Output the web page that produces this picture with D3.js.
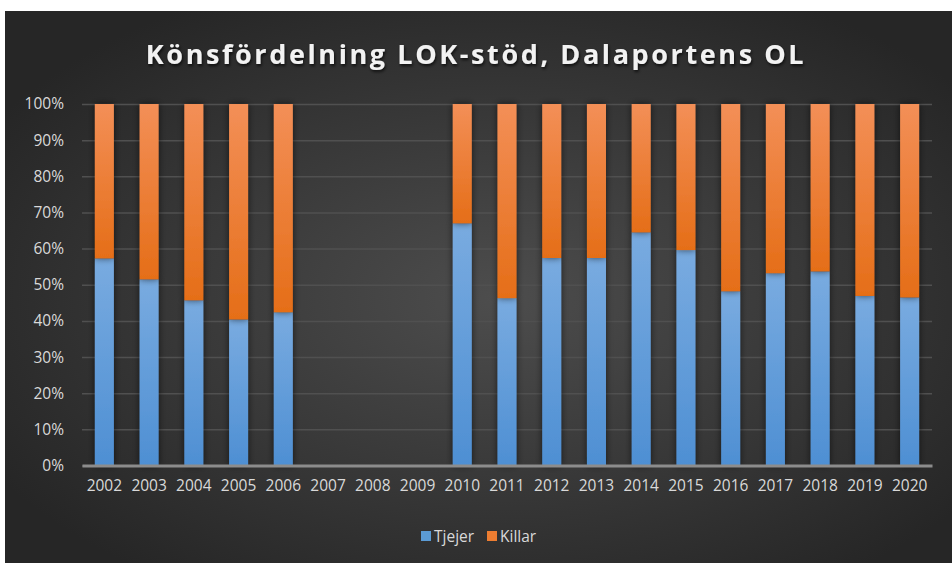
<!DOCTYPE html>
<html>
<head>
<meta charset="utf-8">
<script src="https://cdn.jsdelivr.net/npm/d3@7"></script>
<style>
  body { margin: 0; background: #fff; }
  text { font-family: "Open Sans", "Noto Sans", sans-serif; }
</style>
</head>
<body>
<div class="chart"></div>
<script>
// data (2007-2009 have no values)
let years = ["2002", "2003", "2004", "2005", "2006", "2007", "2008", "2009", "2010", "2011",
  "2012", "2013", "2014", "2015", "2016", "2017", "2018", "2019", "2020"];
let tjejer = [57.3, 51.5, 45.7, 40.4, 42.4, null, null, null, 67.0, 46.3,
  57.4, 57.4, 64.5, 59.6, 48.2, 53.2, 53.7, 46.9, 46.5];
let killar = tjejer.map((d) => (d == null ? null : 100 - d));
let yTicks = [0, 10, 20, 30, 40, 50, 60, 70, 80, 90, 100];
let seriesNames = ["Tjejer", "Killar"];

let W = 952, H = 563;
let margin = { top: 104, right: 20, bottom: 98, left: 82 };
let width = 932 - margin.left;
let height = 465.5 - margin.top;

let root = d3.select(".chart").append("svg").attr("width", W).attr("height", H);
let defs = root.append("defs");

let bg = defs.append("radialGradient").attr("id", "bg")
  .attr("cx", "52%").attr("cy", "52%").attr("r", "62%");
bg.append("stop").attr("offset", "0%").attr("stop-color", "#4d4d4d");
bg.append("stop").attr("offset", "100%").attr("stop-color", "#262626");

function grad(id, top, bottom) {
  let g = defs.append("linearGradient").attr("id", id)
    .attr("x1", 0).attr("y1", 0).attr("x2", 0).attr("y2", 1);
  g.append("stop").attr("offset", "0%").attr("stop-color", top);
  g.append("stop").attr("offset", "100%").attr("stop-color", bottom);
}
grad("blue", "#79abe0", "#4e8fd3");
grad("orange", "#f38f57", "#e56e18");

let shadow = defs.append("filter").attr("id", "shadow")
  .attr("x", "-60%").attr("y", "-10%").attr("width", "220%").attr("height", "120%");
shadow.append("feDropShadow").attr("dx", 0).attr("dy", 0)
  .attr("stdDeviation", 3.5).attr("flood-color", "#000").attr("flood-opacity", 0.6);

let tshadow = defs.append("filter").attr("id", "tshadow");
tshadow.append("feDropShadow").attr("dx", 1).attr("dy", 2)
  .attr("stdDeviation", 1.5).attr("flood-color", "#000").attr("flood-opacity", 0.7);

root.append("rect")
  .attr("x", 5).attr("y", 11).attr("width", W - 5).attr("height", H - 11)
  .attr("fill", "url(#bg)");

root.append("text")
  .attr("x", 476).attr("y", 64)
  .attr("text-anchor", "middle")
  .style("font-size", "27px").style("font-weight", "700")
  .style("letter-spacing", "2.6px")
  .attr("fill", "#f2f2f2")
  .attr("filter", "url(#tshadow)")
  .text("Könsfördelning LOK-stöd, Dalaportens OL");

let svg = root.append("g").attr("transform", `translate(${margin.left}, ${margin.top})`);

let yScale = d3.scaleLinear().domain([0, 100]).range([height, 0]);
let xScale = d3.scaleBand().domain(years).range([0, width])
  .paddingInner(0.575).paddingOuter(0.2875);

// gridlines
svg.append("g")
  .call(d3.axisLeft(yScale).tickValues(yTicks).tickSize(-width).tickFormat(""))
  .call((g) => g.select(".domain").remove())
  .selectAll("line").attr("stroke", "#505050").attr("stroke-width", 1.5);

// y labels
svg.append("g")
  .call(d3.axisLeft(yScale).tickValues(yTicks).tickSize(0).tickPadding(18)
    .tickFormat((d) => d + "%"))
  .call((g) => g.select(".domain").remove())
  .selectAll("text")
  .attr("fill", "#d9d9d9").style("font-size", "15.5px")
  .style("font-family", "'Open Sans', sans-serif");

// stacked bars
let rows = years.map((y, i) => ({ year: y, Tjejer: tjejer[i], Killar: killar[i] }))
  .filter((d) => d.Tjejer != null);
let stack = d3.stack().keys(seriesNames)(rows);
let fills = { Tjejer: "url(#blue)", Killar: "url(#orange)" };

svg.append("g").selectAll("g")
  .data(stack).enter().append("g")
  .attr("fill", (s) => fills[s.key])
  .selectAll("rect")
  .data((s) => s).enter().append("rect")
  .attr("filter", "url(#shadow)")
  .attr("x", (d) => xScale(d.data.year))
  .attr("y", (d) => yScale(d[1]))
  .attr("width", xScale.bandwidth())
  .attr("height", (d) => yScale(d[0]) - yScale(d[1]));

// x axis
let xAxis = svg.append("g")
  .attr("transform", `translate(0, ${height})`)
  .call(d3.axisBottom(xScale).tickSize(0).tickPadding(14));
xAxis.select(".domain").attr("stroke", "#8c8c8c").attr("stroke-width", 3);
xAxis.selectAll("text")
  .attr("fill", "#d9d9d9").style("font-size", "15.5px")
  .style("font-family", "'Open Sans', sans-serif");

// legend
let legend = root.append("g").attr("transform", "translate(421, 536)");
let items = [
  { name: seriesNames[0], color: "#5b9bd5", x: 0 },
  { name: seriesNames[1], color: "#ed7d31", x: 66 },
];
let li = legend.selectAll("g").data(items).enter().append("g")
  .attr("transform", (d) => `translate(${d.x}, 0)`);
li.append("rect").attr("x", 0).attr("y", -5).attr("width", 10).attr("height", 10)
  .attr("fill", (d) => d.color);
li.append("text").attr("x", 13).attr("y", 5.5)
  .attr("fill", "#d9d9d9").style("font-size", "15.5px")
  .text((d) => d.name);
</script>
</body>
</html>
